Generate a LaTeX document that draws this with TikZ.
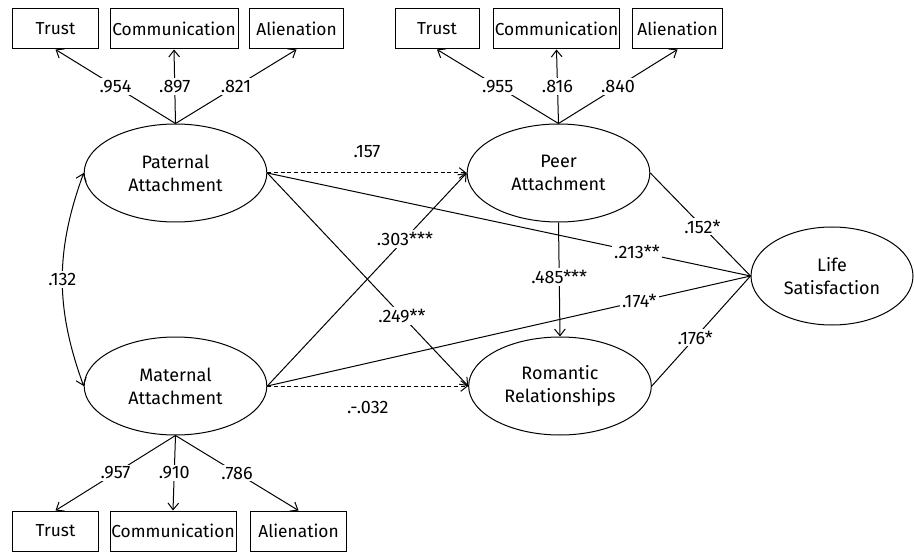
\documentclass[tikz,border=0pt]{standalone}
\usepackage{fontspec}
\setmainfont{Fira Sans}
\usetikzlibrary{shapes.geometric,arrows.meta}

\tikzset{
  latent/.style={draw, ellipse, inner sep=0pt, minimum width=137pt, minimum height=73.5pt, align=center, line width=0.75pt},
  obs/.style={draw, rectangle, inner sep=0pt, minimum height=30pt, line width=0.75pt, font=\fontsize{13}{16}\selectfont},
  path/.style={line width=0.75pt, -{Straight Barb[length=5pt,width=8pt]}},
  plain/.style={line width=0.75pt},
  lbl/.style={fill=white, inner sep=1.5pt},
  dashline/.style={dash pattern=on 3pt off 2pt},
}

\begin{document}
\begin{tikzpicture}[x=0.75pt, y=-0.75pt, font=\fontsize{13.5}{17.25}\selectfont]
\useasboundingbox (0,0) rectangle (914,556);

\node[latent] (pat) at (175.5,173) {Paternal\\Attachment}; % Paternal
\node[latent] (mat) at (175.5,386) {Maternal\\Attachment}; % Maternal
\node[latent] (peer) at (558.5,173) {Peer\\Attachment}; % Peer
\node[latent] (rom) at (560,386) {Romantic\\Relationships}; % Romantic
\node[latent, minimum width=121.5pt] (life) at (832,276) {Life\\Satisfaction}; % Life

\node[obs, minimum width=65pt] (patT) at (55.5,29) {Trust}; % Paternal.items
\node[obs, minimum width=96pt] (patC) at (174,29) {Communication};
\node[obs, minimum width=70pt] (patA) at (296.5,29) {Alienation};
\node[obs, minimum width=63pt] (peerT) at (437,29) {Trust}; % Peer.items
\node[obs, minimum width=95pt] (peerC) at (556.5,29) {Communication};
\node[obs, minimum width=68pt] (peerA) at (677.5,29) {Alienation};
\node[obs, minimum width=65pt] (matT) at (55.5,531) {Trust}; % Maternal.items
\node[obs, minimum width=94.5pt] (matC) at (173,531) {Communication};
\node[obs, minimum width=72.5pt] (matA) at (298.5,531) {Alienation};

\draw[path] (pat.north) -- (patT.south) node[lbl, midway] {.954};
\draw[path] (pat.north) -- (patC.south) node[lbl, midway] {.897};
\draw[path] (pat.north) -- (patA.south) node[lbl, midway] {.821};
\draw[path] (peer.north) -- (peerT.south) node[lbl, midway] {.955};
\draw[path] (peer.north) -- (peerC.south) node[lbl, midway] {.816};
\draw[path] (peer.north) -- (peerA.south) node[lbl, midway] {.840};
\draw[path] (mat.south) -- (matT.north) node[lbl, midway] {.957};
\draw[path] (mat.south) -- (matC.north) node[lbl, midway] {.910};
\draw[path] (mat.south) -- (matA.north) node[lbl, midway] {.786};

\draw[path, {Straight Barb[length=5pt,width=8pt]}-{Straight Barb[length=5pt,width=8pt]}] (pat.west) to[out=250, in=110] node[lbl, midway] {.132} (mat.west); % covariance

\draw[path, dashline] (pat.east) -- (peer.west) node[midway, above=8pt] {.157};
\draw[plain] (pat.east) -- (life.west) node[lbl, pos=0.765] {.213**};
\draw[path] (pat.east) -- (rom.west) node[lbl, pos=0.67] {.249**};
\draw[path] (mat.east) -- (peer.west) node[lbl, pos=0.69] {.303***};
\draw[plain] (mat.east) -- (life.west) node[lbl, pos=0.77] {.174*};
\draw[path, dashline] (mat.east) -- (rom.west) node[midway, below=8pt] {.-.032};
\draw[path] (peer.south) -- (rom.north) node[lbl, pos=0.48] {.485***};
\draw[plain] (peer.east) -- (life.west) node[lbl, pos=0.52] {.152*};
\draw[plain] (rom.east) -- (life.west) node[lbl, pos=0.44] {.176*};

\end{tikzpicture}
\end{document}
